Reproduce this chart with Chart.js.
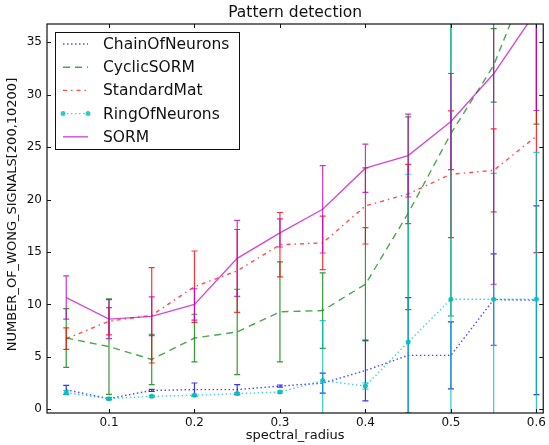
<!DOCTYPE html>
<html>
<head>
<meta charset="utf-8">
<title>Pattern detection</title>
<script src="https://cdn.jsdelivr.net/npm/chart.js@4.4.0/dist/chart.umd.min.js"></script>
<style>
  html, body { margin: 0; padding: 0; background: #fff; }
  #chart { display: block; }
</style>
</head>
<body>
<canvas id="chart" width="549" height="445"></canvas>
<script>
// spectral radius values on the x axis
const spectralRadius = [0.05, 0.1, 0.15, 0.2, 0.25, 0.3, 0.35, 0.4, 0.45, 0.5, 0.55, 0.6];

// mean number of signals per model, with the error bar half-widths
const chainOfNeurons    = [1.86, 1.02, 1.8, 1.88, 1.88, 2.22, 2.5, 3.7, 5.15, 5.15, 10.47, 10.4];
const chainOfNeuronsErr = [0.43, 0.1, 0.1, 0.63, 0.48, 0.1, 0.95, 2.9, 5.5, 3.2, 4.36, 9];

const cyclicSORM    = [6.8, 5.98, 4.76, 6.8, 7.38, 9.3, 9.42, 11.93, 18.7, 26.3, 32.8, 43];
const cyclicSORMErr = [2.8, 4.55, 2.4, 2.27, 4.07, 4.77, 3.6, 5.4, 9.2, 17.4, 3.5, 15.8];

const standardMat    = [6.74, 8.4, 8.97, 11.7, 13.2, 15.7, 15.87, 19.4, 20.54, 22.42, 22.79, 26.05];
const standardMatErr = [1.02, 1.3, 4.55, 3.4, 3.95, 3.07, 2.55, 3.63, 2.82, 6.04, 3.96, 11.1];

const ringOfNeurons    = [1.59, 1.02, 1.24, 1.34, 1.5, 1.65, 2.74, 2.22, 6.42, 10.5, 10.5, 10.5];
const ringOfNeuronsErr = [0.2, 0.1, 0.1, 0.1, 0.1, 0.1, 5.72, 0.3, 16, 27, 12, 14];

const sorm    = [10.66, 8.6, 8.87, 10.0, 14.4, 16.82, 19.08, 23.0, 24.2, 27.45, 32.0, 38.0];
const sormErr = [2.06, 1.86, 1.85, 1.5, 3.63, 1.34, 4.17, 2.3, 3.95, 4.58, 20.07, 9.5];

// axis ticks
const xTicks = [0.1, 0.2, 0.3, 0.4, 0.5, 0.6];
const yTicks = [0, 5, 10, 15, 20, 25, 30, 35];

const FONT = '"DejaVu Sans", sans-serif';

function points(values) {
    return values.map((v, i) => ({ x: spectralRadius[i], y: v }));
}

function series(label, values, errors, rgb, dash, order, extra) {
    return Object.assign({
        label: label,
        data: points(values),
        errors: errors,
        errorColor: `rgba(${rgb}, 0.8)`,
        borderColor: `rgba(${rgb}, 0.7)`,
        backgroundColor: `rgba(${rgb}, 0.8)`,
        borderWidth: 1.4,
        borderDash: dash,
        pointRadius: 0,
        tension: 0,
        fill: false,
        order: order
    }, extra || {});
}

// vertical error bars with caps, drawn just under each line
const errorBars = {
    id: 'errorBars',
    beforeDatasetDraw(chart, args) {
        const ds = chart.data.datasets[args.index];
        const ctx = chart.ctx;
        const xs = chart.scales.x, ys = chart.scales.y;
        const a = chart.chartArea;
        ctx.save();
        ctx.beginPath();
        ctx.rect(a.left, a.top, a.right - a.left, a.bottom - a.top);
        ctx.clip();
        ctx.strokeStyle = ds.errorColor;
        ctx.lineWidth = 1.2;
        ctx.setLineDash([]);
        ds.data.forEach((p, k) => {
            const e = ds.errors[k];
            const px = xs.getPixelForValue(p.x);
            const top = ys.getPixelForValue(p.y + e);
            const bot = ys.getPixelForValue(p.y - e);
            ctx.beginPath();
            ctx.moveTo(px, top);
            ctx.lineTo(px, bot);
            ctx.moveTo(px - 3, top);
            ctx.lineTo(px + 3, top);
            ctx.moveTo(px - 3, bot);
            ctx.lineTo(px + 3, bot);
            ctx.stroke();
        });
        ctx.restore();
    }
};

// frame, inward ticks on all sides, titles and the boxed legend
const decorations = {
    id: 'decorations',
    afterDraw(chart) {
        const ctx = chart.ctx;
        const a = chart.chartArea;
        const xs = chart.scales.x, ys = chart.scales.y;
        ctx.save();
        ctx.setLineDash([]);
        ctx.strokeStyle = '#111';
        ctx.lineWidth = 1;

        ctx.beginPath();
        xTicks.forEach(v => {
            const px = Math.round(xs.getPixelForValue(v)) + 0.5;
            ctx.moveTo(px, a.bottom); ctx.lineTo(px, a.bottom - 4);
            ctx.moveTo(px, a.top); ctx.lineTo(px, a.top + 4);
        });
        yTicks.forEach(v => {
            const py = Math.round(ys.getPixelForValue(v)) + 0.5;
            ctx.moveTo(a.left, py); ctx.lineTo(a.left + 4, py);
            ctx.moveTo(a.right, py); ctx.lineTo(a.right - 4, py);
        });
        ctx.stroke();

        ctx.lineWidth = 1.2;
        ctx.strokeRect(a.left, a.top, a.right - a.left, a.bottom - a.top);

        const cx = (a.left + a.right) / 2;
        ctx.fillStyle = '#111';
        ctx.textAlign = 'center';
        ctx.textBaseline = 'middle';
        ctx.font = '15.5px ' + FONT;
        ctx.fillText('Pattern detection', cx, 12.5);

        ctx.font = '13px ' + FONT;
        ctx.fillText('spectral_radius', cx, 436);

        ctx.save();
        ctx.translate(13, (a.top + a.bottom) / 2 - 4);
        ctx.rotate(-Math.PI / 2);
        ctx.fillText('NUMBER_OF_WONG_SIGNALS[200,10200]', 0, 0);
        ctx.restore();

        // legend
        const lx = 55, ly = 32, lw = 184, lh = 117;
        ctx.fillStyle = '#fff';
        ctx.fillRect(lx, ly, lw, lh);
        ctx.strokeStyle = '#111';
        ctx.lineWidth = 1;
        ctx.strokeRect(lx + 0.5, ly + 0.5, lw, lh);
        ctx.textAlign = 'left';
        ctx.font = '15.5px ' + FONT;
        chart.data.datasets.forEach((ds, i) => {
            const y = 44 + i * 23.2;
            ctx.strokeStyle = ds.borderColor;
            ctx.lineWidth = ds.borderWidth;
            ctx.setLineDash(ds.borderDash);
            ctx.beginPath();
            ctx.moveTo(63, y);
            ctx.lineTo(88, y);
            ctx.stroke();
            ctx.setLineDash([]);
            if (ds.pointRadius > 0) {
                ctx.fillStyle = ds.backgroundColor;
                [63, 88].forEach(mx => {
                    ctx.beginPath();
                    ctx.arc(mx, y, ds.pointRadius, 0, Math.PI * 2);
                    ctx.fill();
                });
            }
            ctx.fillStyle = '#111';
            ctx.fillText(ds.label, 103, y + 1);
        });
        ctx.restore();
    }
};

new Chart(document.getElementById('chart'), {
    type: 'line',
    data: {
        datasets: [
            series('ChainOfNeurons', chainOfNeurons, chainOfNeuronsErr, '0, 0, 255', [1.5, 2.5], 5),
            series('CyclicSORM', cyclicSORM, cyclicSORMErr, '0, 128, 0', [7, 5], 4),
            series('StandardMat', standardMat, standardMatErr, '255, 0, 0', [4, 4, 1.5, 4], 3),
            series('RingOfNeurons', ringOfNeurons, ringOfNeuronsErr, '0, 191, 191', [1.5, 2.5], 2,
                   { pointRadius: 2.5, pointBorderWidth: 0, pointBackgroundColor: 'rgba(0, 191, 191, 0.9)' }),
            series('SORM', sorm, sormErr, '191, 0, 191', [], 1)
        ]
    },
    options: {
        responsive: false,
        animation: false,
        devicePixelRatio: 1,
        layout: { padding: { top: 24, right: 3.5, left: 0, bottom: 0 } },
        plugins: {
            legend: { display: false },
            title: { display: false },
            tooltip: { enabled: false }
        },
        scales: {
            x: {
                type: 'linear',
                min: 0.0275,
                max: 0.608,
                afterBuildTicks: scale => { scale.ticks = xTicks.map(v => ({ value: v })); },
                afterFit: scale => { scale.height = 32; },
                grid: { display: false, drawTicks: false },
                border: { display: false },
                ticks: {
                    padding: 3,
                    color: '#111',
                    font: { family: FONT, size: 12 },
                    maxRotation: 0,
                    callback: v => v.toFixed(1)
                }
            },
            y: {
                type: 'linear',
                min: -0.35,
                max: 36.75,
                afterBuildTicks: scale => { scale.ticks = yTicks.map(v => ({ value: v })); },
                afterFit: scale => { scale.width = 47; },
                grid: { display: false, drawTicks: false },
                border: { display: false },
                ticks: {
                    padding: 5,
                    color: '#111',
                    font: { family: FONT, size: 12 },
                    callback: v => String(v)
                }
            }
        }
    },
    plugins: [errorBars, decorations]
});
</script>
</body>
</html>
